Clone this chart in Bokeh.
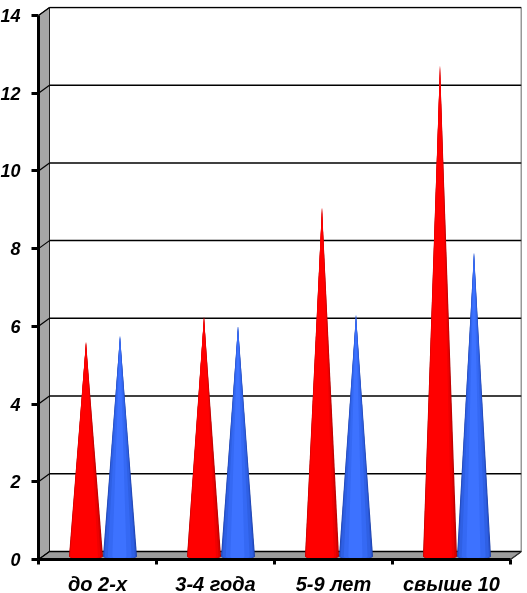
import math
from bokeh.plotting import figure
from bokeh.models import FixedTicker, Range1d
from bokeh.embed import file_html
from bokeh.resources import INLINE

categories = ["до 2-х", "3-4 года", "5-9 лет", "свыше 10"]
red_values = [5.6, 6.25, 9.05, 12.7]
blue_values = [5.75, 6.0, 6.3, 7.9]
y_ticks = [0, 2, 4, 6, 8, 10, 12, 14]

SHIFT = 10
W, H = 527 + SHIFT, 601
L, R, T, B = 38 + SHIFT, 521 + SHIFT, 6, 559
PX_X = 118.0
PX_Y = 38.86
DX = 11 / PX_X
DY = 8 / PX_Y
HALF = 17 / PX_X
n = len(categories)

p = figure(width=W, height=H, output_backend="svg", toolbar_location=None,
           x_range=Range1d(0, (R - L) / PX_X), y_range=Range1d(0, (B - T) / PX_Y),
           min_border_left=L, min_border_right=W - R, min_border_top=T, min_border_bottom=H - B,
           background_fill_color="white", border_fill_color="white",
           outline_line_color=None, styles={"position": "fixed", "left": f"-{SHIFT}px", "top": "0px"})
p.grid.visible = False

GRAY = "#a6a6a6"
ymax = y_ticks[-1]
# wall and floor
p.patch([0, DX, DX, 0], [0, DY, ymax + DY, ymax], fill_color=GRAY, line_color="#222222", line_width=1)
p.patch([0, DX, n + DX, n], [0, DY, DY, 0], fill_color="#9c9c9c", line_color="#222222", line_width=1)
# gridlines with their slant on the wall
p.segment([DX] * len(y_ticks), [v + DY for v in y_ticks], [n + DX] * len(y_ticks), [v + DY for v in y_ticks],
          line_color="black", line_width=1.5)
p.segment([0] * len(y_ticks), y_ticks, [DX] * len(y_ticks), [v + DY for v in y_ticks],
          line_color="black", line_width=1.2)
p.segment([n + DX], [DY], [n + DX], [ymax + DY], line_color="#333333", line_width=1.5)
p.segment([n], [0], [n + DX], [DY], line_color="#333333", line_width=1.2)

# nested shading: (colour, left extent, right extent) as fractions of the base half width
RED = [("#b00000", 1.0, 1.0), ("#d80000", 0.98, 0.95), ("#f00000", 0.96, 0.85), ("#ff0000", 0.92, 0.7)]
BLUE = [("#1c40a8", 1.0, 1.0), ("#2852cc", 0.97, 0.96), ("#2f60e4", 0.9, 0.88), ("#3569f4", 0.72, 0.68), ("#3d72ff", 0.45, 0.38)]


def cone(cx, v, shades):
    m = 24
    ry = 0.085
    for col, fl, fr in shades:
        xs, ys = [cx], [v]
        for k in range(m + 1):
            a = math.pi * k / m
            c = math.cos(a)
            xs.append(cx - HALF * (fl if c > 0 else fr) * c)
            ys.append(ry - ry * math.sin(a))
        p.patch(xs, ys, fill_color=col, line_color=None)


for i in range(n):
    c = i + 0.5 + DX / 2
    cone(c - HALF, red_values[i], RED)
    cone(c + HALF, blue_values[i], BLUE)

FONT = "Liberation Sans"
yax = p.yaxis[0]
yax.ticker = FixedTicker(ticks=y_ticks)
yax.bounds = (0, ymax)
yax.axis_line_color = "black"
yax.axis_line_width = 3
yax.major_tick_line_color = "black"
yax.major_tick_line_width = 3
yax.major_tick_in = 0
yax.major_tick_out = 7
yax.minor_tick_line_color = None
yax.major_label_standoff = 11
yax.major_label_text_font = FONT
yax.major_label_text_font_style = "bold italic"
yax.major_label_text_font_size = "18px"
yax.major_label_text_color = "black"

xax = p.xaxis[0]
centers = [i + 0.5 for i in range(n)]
xax.ticker = FixedTicker(ticks=centers, minor_ticks=list(range(n + 1)))
xax.major_label_overrides = {c: t for c, t in zip(centers, categories)}
xax.bounds = (0, n)
xax.axis_line_color = "black"
xax.axis_line_width = 3
xax.major_tick_line_color = None
xax.minor_tick_line_color = "black"
xax.minor_tick_line_width = 3
xax.minor_tick_in = 0
xax.minor_tick_out = 5
xax.major_label_standoff = 7
xax.major_label_text_font = FONT
xax.major_label_text_font_style = "bold italic"
xax.major_label_text_font_size = "20px"
xax.major_label_text_color = "black"

open("out.html", "w").write(file_html(p, INLINE))
